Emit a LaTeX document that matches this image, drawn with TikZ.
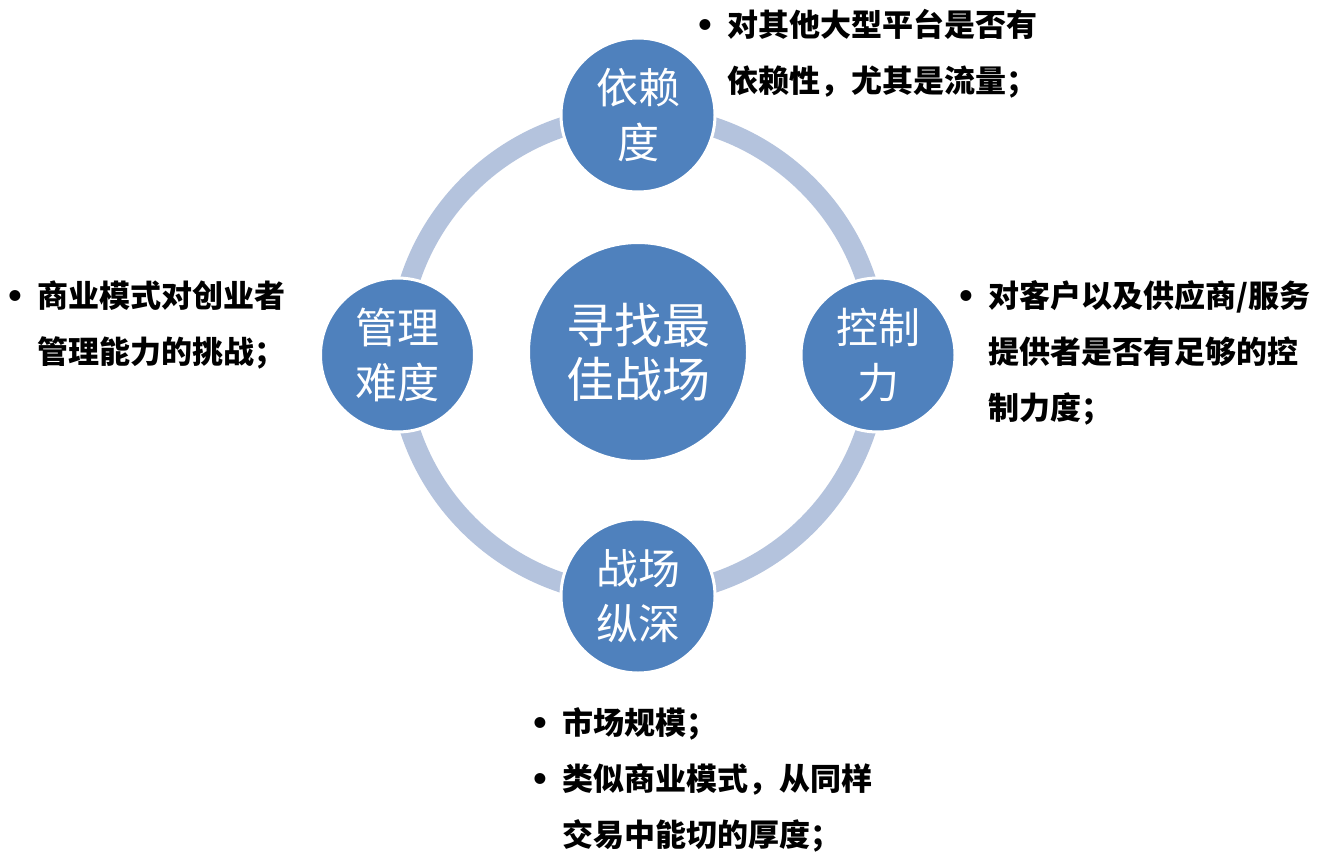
\documentclass[tikz,border=0pt]{standalone}
\usepackage{fontspec}
\newfontfamily\cjk{Noto Sans CJK SC}
\newfontfamily\dejavu{DejaVu Sans}
\definecolor{bubble}{RGB}{79,129,189}
\definecolor{ringc}{RGB}{180,195,221}
\tikzset{
  bubblenode/.style={circle, fill=bubble, draw=white, line width=3pt, inner sep=0pt,
    minimum size=154pt, text=white, align=center, font=\cjk\fontsize{42}{55}\selectfont},
  hubnode/.style={bubblenode, minimum size=219pt, font=\cjk\fontsize{48}{54}\selectfont},
  notenode/.style={anchor=base west, inner sep=0pt, align=left, text=black,
    font=\cjk\bfseries\fontsize{31}{56}\selectfont},
  ringline/.style={draw=ringc, line width=20pt}
}
\newcommand{\bul}{\llap{{\dejavu •}\hspace{12pt}}}
\begin{document}
\begin{tikzpicture}[x=1pt,y=-1pt]
\useasboundingbox[fill=white] (0,0) rectangle (1320,854);
\coordinate (c) at (638,355);
\draw[ringline] (c) circle[radius=240pt];
\node[hubnode] (hub) at (638,352) {寻找最\\佳战场};
\node[bubblenode] (top) at (638,115) {依赖\\度};
\node[bubblenode] (right) at (878,355) {控制\\力};
\node[bubblenode] (bottom) at (638,596) {战场\\纵深};
\node[bubblenode] (left) at (397.5,355) {管理\\难度};
\node[notenode] (ntop) at (727,92) {\bul 对其他大型平台是否有\\依赖性，尤其是流量；};
\node[notenode] (nright) at (988,419) {\bul 对客户以及供应商/服务\\提供者是否有足够的控\\制力度；};
\node[notenode] (nleft) at (37,363) {\bul 商业模式对创业者\\管理能力的挑战；};
\node[notenode] (nbottom) at (562,846) {\bul 市场规模；\\\bul 类似商业模式，从同样\\交易中能切的厚度；};
\end{tikzpicture}
\end{document}
